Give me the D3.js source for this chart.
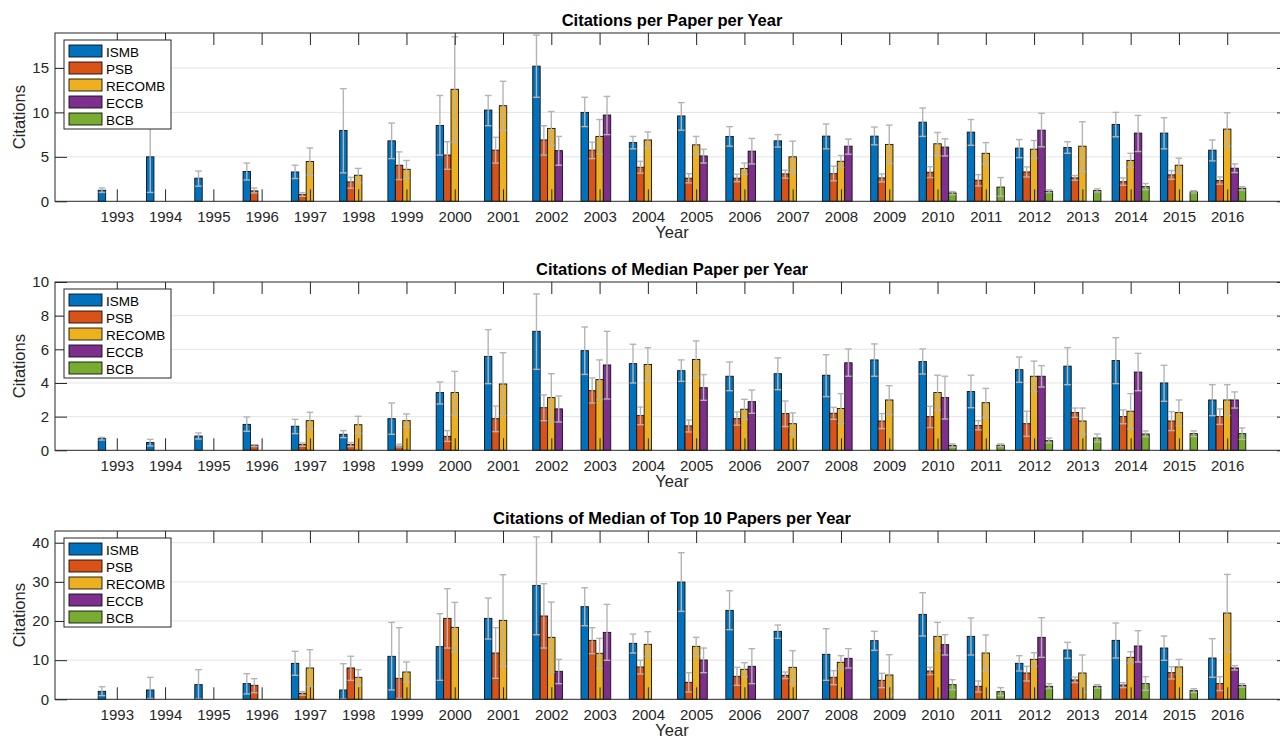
<!DOCTYPE html>
<html>
<head>
<meta charset="utf-8">
<script src="https://cdn.jsdelivr.net/npm/d3@7"></script>
<style>
body { margin: 0; background: #fff; }
svg { display: block; font-family: "Liberation Sans", Arial, sans-serif; }
</style>
</head>
<body>
<svg id="drawing_region"></svg>
<script>
const years = [1993,1994,1995,1996,1997,1998,1999,2000,2001,2002,2003,2004,
               2005,2006,2007,2008,2009,2010,2011,2012,2013,2014,2015,2016];
const series = ['ISMB', 'PSB', 'RECOMB', 'ECCB', 'BCB'];
const colors = ['#0072bd', '#d95319', '#edb120', '#7e2f8e', '#77ac30'];

// rows are [year, value, lower, upper]
const perPaperISMB = [[1993,1.24,1.0,1.5],[1994,5.0,1.0,9.5],[1995,2.6,1.7,3.4],[1996,3.35,2.4,4.3],
  [1997,3.3,2.56,4.06],[1998,7.97,3.2,12.67],[1999,6.8,4.8,8.8],[2000,8.53,5.2,11.9],[2001,10.26,8.5,11.9],
  [2002,15.2,11.7,18.7],[2003,10.0,8.4,11.7],[2004,6.6,5.9,7.3],[2005,9.6,8.0,11.1],[2006,7.3,6.2,8.4],
  [2007,6.8,6.1,7.5],[2008,7.33,5.9,8.7],[2009,7.33,6.35,8.35],[2010,8.9,7.3,10.5],[2011,7.78,6.3,9.2],
  [2012,5.98,4.9,6.95],[2013,6.05,5.4,6.7],[2014,8.65,7.26,10.0],[2015,7.67,5.9,9.4],[2016,5.75,4.55,6.9]];
const perPaperPSB = [[1996,1.17,0.94,1.5],[1997,0.75,0.56,0.98],[1998,2.18,1.47,2.7],[1999,4.06,2.44,5.56],
  [2000,5.2,3.6,6.7],[2001,5.75,4.3,7.2],[2002,6.9,5.2,8.5],[2003,5.75,4.8,6.65],[2004,3.83,3.16,4.5],
  [2005,2.6,2.07,3.1],[2006,2.6,2.2,3.05],[2007,3.08,2.6,3.5],[2008,3.1,2.3,3.95],[2009,2.63,2.18,3.08],
  [2010,3.27,2.67,3.9],[2011,2.37,1.73,3.0],[2012,3.3,2.74,3.87],[2013,2.63,2.37,2.9],[2014,2.2,1.8,2.63],
  [2015,2.97,2.48,3.46],[2016,2.33,1.92,2.74]];
const perPaperRECOMB = [[1997,4.47,2.93,6.0],[1998,2.93,2.1,3.7],[1999,3.6,2.6,4.59],[2000,12.6,6.65,18.5],
  [2001,10.75,8.0,13.5],[2002,8.2,6.3,10.1],[2003,7.3,5.3,9.2],[2004,6.9,6.0,7.8],[2005,6.35,5.3,7.3],
  [2006,3.7,3.05,4.3],[2007,5.0,3.23,6.77],[2008,4.5,3.83,5.15],[2009,6.4,4.25,8.57],[2010,6.47,5.15,7.74],
  [2011,5.4,4.2,6.6],[2012,5.86,4.85,6.84],[2013,6.2,3.35,8.95],[2014,4.6,3.83,5.4],[2015,4.06,3.23,4.85],
  [2016,8.12,6.2,9.96]];
const perPaperECCB = [[2002,5.7,4.06,7.3],[2003,9.7,7.5,11.8],[2005,5.1,4.3,5.86],[2006,5.64,4.2,7.07],
  [2008,6.2,5.3,7.0],[2010,6.1,5.1,7.03],[2012,8.0,6.13,9.9],[2014,7.67,5.6,9.66],[2016,3.72,3.23,4.2]];
const perPaperBCB = [[2010,0.94,0.75,1.09],[2011,1.6,0.56,2.67],[2012,1.13,0.98,1.3],[2013,1.2,1.05,1.4],
  [2014,1.65,1.3,2.0],[2015,1.05,0.94,1.2],[2016,1.47,1.24,1.65]];

const medianISMB = [[1993,0.69,0.61,0.77],[1994,0.46,0.26,0.65],[1995,0.85,0.67,1.03],[1996,1.54,1.13,1.98],
  [1997,1.43,0.99,1.84],[1998,0.95,0.75,1.17],[1999,1.88,0.95,2.81],[2000,3.43,2.75,4.06],[2001,5.58,3.96,7.17],
  [2002,7.07,4.81,9.29],[2003,5.92,4.51,7.33],[2004,5.15,4.0,6.3],[2005,4.73,4.1,5.37],[2006,4.4,3.54,5.25],
  [2007,4.55,3.6,5.49],[2008,4.46,3.19,5.68],[2009,5.37,4.4,6.32],[2010,5.27,4.53,6.02],[2011,3.49,2.53,4.46],
  [2012,4.79,4.04,5.54],[2013,5.0,3.9,6.1],[2014,5.33,3.96,6.69],[2015,4.0,2.91,5.05],[2016,2.99,2.06,3.9]];
const medianPSB = [[1996,0.3,0.22,0.34],[1997,0.34,0.24,0.44],[1998,0.34,0.22,0.46],[1999,0.24,0.2,0.36],
  [2000,0.83,0.53,1.17],[2001,1.88,1.11,2.63],[2002,2.53,1.76,3.29],[2003,3.54,2.81,4.3],[2004,2.06,1.52,2.57],
  [2005,1.45,1.09,1.8],[2006,1.88,1.49,2.28],[2007,2.18,1.41,2.93],[2008,2.2,1.84,2.55],[2009,1.74,1.29,2.18],
  [2010,2.0,1.35,2.61],[2011,1.47,1.21,1.76],[2012,1.58,0.83,2.32],[2013,2.24,1.96,2.51],[2014,2.0,1.58,2.4],
  [2015,1.74,1.17,2.3],[2016,2.0,1.54,2.46]];
const medianRECOMB = [[1997,1.76,1.27,2.26],[1998,1.52,1.01,2.02],[1999,1.76,1.37,2.16],[2000,3.43,2.1,4.69],
  [2001,3.94,2.06,5.8],[2002,3.13,1.7,4.55],[2003,4.2,3.0,5.37],[2004,5.1,4.14,6.1],[2005,5.4,4.32,6.5],
  [2006,2.44,1.84,3.03],[2007,1.58,0.95,2.22],[2008,2.48,1.6,3.37],[2009,2.99,2.12,3.84],[2010,3.43,2.38,4.46],
  [2011,2.83,1.96,3.68],[2012,4.4,3.49,5.3],[2013,1.74,0.95,2.51],[2014,2.32,1.27,3.37],[2015,2.24,1.47,2.99],
  [2016,2.99,2.06,3.9]];
const medianECCB = [[2002,2.46,1.68,3.23],[2003,5.07,3.05,7.07],[2005,3.72,2.97,4.5],[2006,2.89,2.2,3.58],
  [2008,5.2,4.4,6.02],[2010,3.13,1.86,4.4],[2012,4.4,3.76,5.03],[2014,4.65,3.54,5.76],[2016,2.99,2.51,3.47]];
const medianBCB = [[2010,0.28,0.18,0.38],[2011,0.3,0.22,0.38],[2012,0.57,0.44,0.73],[2013,0.73,0.5,0.97],
  [2014,0.97,0.79,1.15],[2015,0.99,0.81,1.15],[2016,0.99,0.65,1.33]];

const topTenISMB = [[1993,2.04,0.94,3.2],[1994,2.38,0.2,5.6],[1995,3.74,0.1,7.57],[1996,4.0,1.36,6.55],
  [1997,9.19,6.13,12.26],[1998,2.38,0.1,9.1],[1999,10.98,2.38,19.66],[2000,13.45,4.85,21.87],[2001,20.68,15.4,25.87],
  [2002,29.1,16.5,41.5],[2003,23.66,18.8,28.5],[2004,14.3,11.83,16.68],[2005,29.96,22.47,37.45],[2006,22.72,17.79,27.74],
  [2007,17.36,15.57,18.98],[2008,11.49,4.85,18.04],[2009,14.98,12.51,17.36],[2010,21.7,16.17,27.23],
  [2011,16.09,11.32,20.77],[2012,9.19,7.23,11.15],[2013,12.6,10.47,14.55],[2014,15.06,10.55,19.49],
  [2015,13.1,9.96,16.17],[2016,10.55,5.62,15.49]];
const topTenPSB = [[1996,3.57,1.7,5.28],[1997,1.53,1.02,1.96],[1998,8.0,4.85,11.0],[1999,5.36,0.2,18.3],
  [2000,20.68,13.1,28.26],[2001,11.83,5.36,18.3],[2002,21.28,13.1,29.53],[2003,15.06,11.66,18.3],[2004,8.26,6.47,9.96],
  [2005,4.34,1.87,6.8],[2006,5.87,3.57,8.17],[2007,6.13,5.28,6.98],[2008,5.62,3.74,7.32],[2009,4.85,2.98,6.64],
  [2010,7.23,6.3,8.17],[2011,3.32,1.87,4.68],[2012,6.72,4.68,8.43],[2013,4.94,4.26,5.7],[2014,3.66,2.98,4.26],
  [2015,6.8,5.19,8.34],[2016,4.0,2.21,5.79]];
const topTenRECOMB = [[1997,8.0,3.23,12.68],[1998,5.62,3.57,7.57],[1999,6.98,4.43,9.53],[2000,18.38,12.17,24.77],
  [2001,20.17,8.43,31.83],[2002,15.83,6.9,24.85],[2003,11.74,7.9,15.57],[2004,14.04,10.98,17.28],[2005,13.53,11.06,15.83],
  [2006,7.66,5.79,9.36],[2007,8.17,3.91,12.43],[2008,9.45,7.66,11.15],[2009,6.21,1.1,11.4],[2010,16.09,12.43,19.66],
  [2011,11.83,7.23,16.43],[2012,10.2,8.43,11.91],[2013,6.72,1.87,11.32],[2014,10.72,9.28,12.17],[2015,8.26,6.38,10.2],
  [2016,22.04,12.17,31.91]];
const topTenECCB = [[2002,7.15,4.0,10.2],[2003,17.1,9.96,24.25],[2005,10.04,6.8,13.1],[2006,8.43,4.0,12.94],
  [2008,10.47,8.0,12.94],[2010,13.96,11.32,16.5],[2012,15.83,10.72,20.85],[2014,13.62,9.53,17.53],[2016,8.0,7.49,8.6]];
const topTenBCB = [[2010,3.74,2.47,5.02],[2011,1.96,0.94,2.98],[2012,3.32,2.72,4.0],[2013,3.32,2.81,3.74],
  [2014,4.0,2.3,5.79],[2015,2.21,1.7,2.72],[2016,3.57,3.06,4.0]];

const titles = ['Citations per Paper per Year', 'Citations of Median Paper per Year',
                'Citations of Median of Top 10 Papers per Year'];
const yMax = [18.93, 10, 43];
const yTicks = [[0, 5, 10, 15], [0, 2, 4, 6, 8, 10], [0, 10, 20, 30, 40]];
const panelData = [
  [perPaperISMB, perPaperPSB, perPaperRECOMB, perPaperECCB, perPaperBCB],
  [medianISMB, medianPSB, medianRECOMB, medianECCB, medianBCB],
  [topTenISMB, topTenPSB, topTenRECOMB, topTenECCB, topTenBCB]
];

const W = 1280, H = 740;
const left = 55, right = 1289, plotH = 168.3;
const tops = [33, 282, 531];
const axisColor = '#262626';

const svg = d3.select('#drawing_region').attr('width', W).attr('height', H);

const xscale = d3.scaleLinear()
  .domain([years[0] - 1.28, years[years.length - 1] + 1.28])
  .range([left, right]);
const yearPx = xscale(1) - xscale(0);
const groupW = 0.769 * yearPx;
const sub = d3.scaleBand().domain(series).range([-groupW / 2, groupW / 2]).padding(0);
const bw = sub.bandwidth();

function drawPanel(p) {
  const top = tops[p], bottom = top + plotH;
  const yscale = d3.scaleLinear().domain([0, yMax[p]]).range([bottom, top]);
  const g = svg.append('g');

  // grid
  g.append('g').selectAll('line')
    .data(yTicks[p].filter(t => t > 0 && t < yMax[p]))
    .join('line')
    .attr('x1', left).attr('x2', right)
    .attr('y1', d => yscale(d)).attr('y2', d => yscale(d))
    .attr('stroke', '#e4e4e4').attr('stroke-width', 1);

  // bars
  panelData[p].forEach((rows, si) => {
    const name = series[si];
    g.append('g').selectAll('rect')
      .data(rows)
      .join('rect')
      .attr('x', d => xscale(d[0]) + sub(name))
      .attr('y', d => yscale(d[1]))
      .attr('width', bw)
      .attr('height', d => yscale(0) - yscale(d[1]))
      .attr('fill', colors[si])
      .attr('stroke', '#111')
      .attr('stroke-width', 0.9);
  });

  // error bars
  panelData[p].forEach((rows, si) => {
    const name = series[si];
    const eg = g.append('g').attr('stroke', '#b4b4b4').attr('stroke-width', 1.4).attr('fill', 'none');
    const cx = d => xscale(d[0]) + sub(name) + bw / 2;
    const cap = bw * 0.45;
    eg.selectAll('line.v').data(rows).join('line').attr('class', 'v')
      .attr('x1', cx).attr('x2', cx)
      .attr('y1', d => yscale(d[2])).attr('y2', d => yscale(d[3]));
    eg.selectAll('line.hi').data(rows).join('line').attr('class', 'hi')
      .attr('x1', d => cx(d) - cap).attr('x2', d => cx(d) + cap)
      .attr('y1', d => yscale(d[3])).attr('y2', d => yscale(d[3]));
    eg.selectAll('line.lo').data(rows).join('line').attr('class', 'lo')
      .attr('x1', d => cx(d) - cap).attr('x2', d => cx(d) + cap)
      .attr('y1', d => yscale(d[2])).attr('y2', d => yscale(d[2]));
  });

  // axes
  const styleAxis = sel => {
    sel.attr('color', axisColor).attr('font-size', 15)
      .attr('font-family', '"Liberation Sans", Arial, sans-serif');
    sel.select('.domain').remove();
    sel.selectAll('text').attr('fill', axisColor);
  };
  g.append('g').attr('transform', `translate(0,${bottom})`)
    .call(d3.axisBottom(xscale).tickValues(years).tickFormat(d3.format('d'))
      .tickSizeInner(-12).tickSizeOuter(0).tickPadding(10))
    .call(styleAxis);
  g.append('g').attr('transform', `translate(0,${top})`)
    .call(d3.axisTop(xscale).tickValues(years).tickFormat('')
      .tickSizeInner(-12).tickSizeOuter(0))
    .call(styleAxis);
  g.append('g').attr('transform', `translate(${left},0)`)
    .call(d3.axisLeft(yscale).tickValues(yTicks[p]).tickSizeInner(-12).tickSizeOuter(0).tickPadding(6))
    .call(styleAxis);
  g.append('g').attr('transform', `translate(${right},0)`)
    .call(d3.axisRight(yscale).tickValues(yTicks[p]).tickFormat('').tickSizeInner(-12).tickSizeOuter(0))
    .call(styleAxis);

  g.append('rect')
    .attr('x', left).attr('y', top).attr('width', right - left).attr('height', plotH)
    .attr('fill', 'none').attr('stroke', axisColor).attr('stroke-width', 1);

  // labels
  const cxMid = (left + right) / 2;
  g.append('text').attr('x', cxMid).attr('y', top - 7)
    .attr('text-anchor', 'middle').attr('font-size', 16.5).attr('font-weight', 'bold')
    .attr('fill', '#000').text(titles[p]);
  g.append('text').attr('x', cxMid).attr('y', bottom + 37)
    .attr('text-anchor', 'middle').attr('font-size', 16.5).attr('fill', axisColor).text('Year');
  g.append('text')
    .attr('transform', `translate(25,${top + plotH / 2}) rotate(-90)`)
    .attr('text-anchor', 'middle').attr('font-size', 16.5).attr('fill', axisColor).text('Citations');

  // legend
  const lg = g.append('g').attr('transform', `translate(64,${top + 7})`);
  lg.append('rect').attr('width', 107).attr('height', 89)
    .attr('fill', '#fff').attr('stroke', axisColor).attr('stroke-width', 1);
  const item = lg.selectAll('g.item').data(series).join('g').attr('class', 'item')
    .attr('transform', (d, i) => `translate(5,${5 + 17 * i})`);
  item.append('rect').attr('width', 33).attr('height', 12)
    .attr('fill', (d, i) => colors[i]).attr('stroke', '#111').attr('stroke-width', 0.9);
  item.append('text').attr('x', 37).attr('y', 11.5)
    .attr('font-size', 13.5).attr('fill', '#000').text(d => d);
}

[0, 1, 2].forEach(drawPanel);
</script>
</body>
</html>
